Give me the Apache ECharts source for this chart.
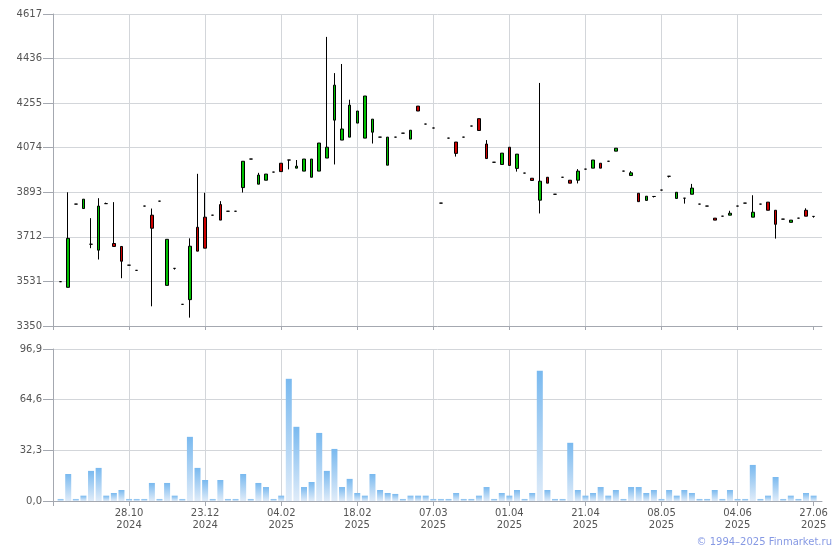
<!DOCTYPE html>
<html>
<head>
<meta charset="utf-8">
<script src="https://cdn.jsdelivr.net/npm/echarts@6/dist/echarts.min.js"></script>
<style>
html,body{margin:0;padding:0;background:#fff;}
#chart{width:840px;height:550px;}
</style>
</head>
<body>
<div id="chart"></div>
<script>
// ---- data ----
const opens  = [3530,3507,3845,3827,3682,3658,3847,3685,3673,3597,
                3576,3837,3800,3857,3515,3584,3438,3457,3751,3792,
                3800,3843,3816,3816,3912,4028,3926,3942,3975,4011,
                4024,3991,3979,3954,3979,4032,4186,4105,4117,4174,
                4113,4137,4117,4003,4117,4133,4109,4243,4170,4154,
                3849,4113,4097,4117,4162,4192,4089,4015,4006,4076,
                3990,3971,3950,3861,3954,3885,3954,3942,3942,3987,
                3991,4011,4019,4060,3979,3961,3889,3860,3876,3902,
                3958,3868,3869,3885,3845,3837,3788,3796,3800,3837,
                3849,3792,3845,3853,3820,3784,3771,3788,3820,3795];
const closes = [3530,3706,3845,3865,3682,3837,3847,3673,3613,3597,
                3576,3837,3747,3857,3702,3584,3438,3674,3654,3666,
                3800,3780,3816,3816,4019,4028,3963,3967,3975,3977,
                4024,3999,4028,4028,4093,4076,4328,4150,4247,4223,
                4284,4190,4117,4117,4117,4133,4145,4223,4170,4154,
                3849,4113,4051,4117,4162,4144,4030,4015,4052,4002,
                4048,3971,3941,3938,3930,3885,3954,3930,3979,3987,
                4024,3991,4019,4072,3979,3972,3855,3877,3876,3902,
                3958,3893,3869,3910,3845,3837,3780,3796,3808,3837,
                3849,3812,3845,3820,3763,3784,3780,3788,3796,3795];
const lows   = [3530,3507,3845,3827,3666,3620,3847,3673,3544,3597,
                3576,3837,3430,3857,3515,3579,3438,3384,3654,3666,
                3800,3780,3816,3816,3892,4028,3926,3942,3975,3977,
                3986,3991,3979,3954,3979,4032,4006,4105,4117,4174,
                4113,4091,4117,4003,4117,4133,4109,4223,4170,4154,
                3849,4113,4038,4117,4162,4144,4030,4015,4006,4002,
                3977,3971,3941,3807,3930,3885,3954,3930,3929,3987,
                3991,3991,4019,4060,3979,3961,3855,3860,3872,3902,
                3953,3868,3847,3885,3845,3837,3780,3796,3800,3837,
                3849,3792,3845,3820,3705,3784,3771,3788,3796,3790];
const highs  = [3530,3893,3845,3865,3788,3869,3851,3853,3673,3597,
                3576,3837,3827,3857,3702,3584,3438,3706,3968,3891,
                3800,3857,3816,3816,4019,4028,3972,3967,3975,4011,
                4024,4024,4028,4028,4093,4524,4377,4414,4269,4223,
                4284,4190,4117,4117,4117,4133,4145,4243,4170,4154,
                3849,4113,4097,4117,4162,4192,4105,4015,4052,4076,
                4048,3971,3950,4337,3954,3885,3954,3942,3987,3987,
                4024,4011,4019,4072,3979,3979,3889,3877,3876,3902,
                3958,3893,3869,3927,3845,3837,3788,3796,3818,3837,
                3849,3881,3845,3853,3820,3784,3780,3788,3828,3795];
const volumes = [1.3,17.2,1.3,3.4,19.2,21.1,3.4,5.1,7.0,1.3,
                 1.3,1.3,11.5,1.3,11.5,3.4,1.3,40.9,21.1,13.4,
                 1.3,13.4,1.3,1.3,17.2,1.3,11.5,8.9,1.3,3.4,
                 77.9,47.3,8.9,12.1,43.4,19.2,33.2,8.9,14.1,5.1,
                 3.4,17.2,7.0,5.1,4.5,1.3,3.4,3.4,3.4,1.3,
                 1.3,1.3,5.1,1.3,1.3,3.4,8.9,1.3,5.1,3.4,
                 7.0,1.3,5.1,83.0,7.0,1.3,1.3,37.1,7.0,3.4,
                 5.1,8.9,3.4,7.0,1.3,8.9,8.9,5.1,7.0,1.3,
                 7.0,3.4,7.0,5.1,1.3,1.3,7.0,1.3,7.0,1.3,
                 1.3,23.0,1.3,3.4,15.3,1.3,3.4,1.3,5.1,3.4];
// x-axis tick labels and the candle index (0-based) each one sits on
const xTickLabels = ['28.10\n2024','23.12\n2024','04.02\n2025','18.02\n2025','07.03\n2025',
                     '01.04\n2025','21.04\n2025','08.05\n2025','04.06\n2025','27.06\n2025'];
const xTickIndex  = [9,19,29,39,49,59,69,79,89,99];
const priceTicks  = [3350,3531,3712,3893,4074,4255,4436,4617];
const volumeTicks = [0,32.3,64.6,96.9];

// ---- build series rows (x position = candle index + 1) ----
const candleRows = opens.map((o,i)=>[i+1, o, closes[i], lows[i], highs[i]]);
const volumeRows = volumes.map((v,i)=>[i+1, v]);
const xTickPos = xTickIndex.map(i=>i+1);
const xTickPosAll = [0].concat(xTickPos);

const FONT = 'DejaVu Sans';
const AXIS_C = '#a4a8b0';
const GRID_C = '#d3d6da';
const TEXT_C = '#555555';

function xAxisCfg(gridIndex, showLabels){
  return {
    type:'value', gridIndex, min:0, max:101.1,
    axisLine:{show:true, onZero:false, lineStyle:{color:AXIS_C}},
    axisTick:{show:true, length: showLabels?5:4, customValues:xTickPosAll, lineStyle:{color:AXIS_C}},
    axisLabel:{show:showLabels, customValues:xTickPos, color:TEXT_C, fontFamily:FONT, fontSize:10,
      lineHeight:12, margin:6,
      formatter:(v)=>{const k=xTickPos.indexOf(Math.round(v)); return k>=0?xTickLabels[k]:'';}},
    splitLine:{show:true, showMinLine:false, showMaxLine:false, lineStyle:{color:GRID_C, width:1}}
  };
}

const chart = echarts.init(document.getElementById('chart'), null, {renderer:'canvas'});
chart.setOption({
  animation:false,
  backgroundColor:'#ffffff',
  grid:[
    {left:53, top:14, width:769, height:312},
    {left:53, top:349, width:769, height:152}
  ],
  xAxis:[xAxisCfg(0,false), xAxisCfg(1,true)],
  yAxis:[
    {type:'value', gridIndex:0, min:3350, max:4617,
     axisLine:{show:true, lineStyle:{color:AXIS_C}},
     axisTick:{show:true, length:10, customValues:priceTicks, lineStyle:{color:AXIS_C}},
     axisLabel:{customValues:priceTicks, color:TEXT_C, fontFamily:FONT, fontSize:10, margin:11,
       formatter:(v)=>String(Math.round(v))},
     splitLine:{show:true, showMinLine:false, lineStyle:{color:GRID_C}}},
    {type:'value', gridIndex:1, min:0, max:96.9,
     axisLine:{show:true, lineStyle:{color:AXIS_C}},
     axisTick:{show:true, length:10, customValues:volumeTicks, lineStyle:{color:AXIS_C}},
     axisLabel:{customValues:volumeTicks, color:TEXT_C, fontFamily:FONT, fontSize:10, margin:11,
       formatter:(v)=>v.toFixed(1).replace('.',',')},
     splitLine:{show:true, showMinLine:false, lineStyle:{color:GRID_C}}}
  ],
  series:[
    {type:'candlestick', xAxisIndex:0, yAxisIndex:0, data:candleRows,
     encode:{x:0, y:[1,2,3,4]}, barWidth:3,
     itemStyle:{color:'#00c000', color0:'#cc0000', borderColor:'#000000', borderColor0:'#000000',
       borderColorDoji:'#000000', borderWidth:1}},
    {type:'bar', xAxisIndex:1, yAxisIndex:1, data:volumeRows, barWidth:6,
     itemStyle:{color:new echarts.graphic.LinearGradient(0,0,0,1,[
       {offset:0,color:'#79b9ef'},{offset:1,color:'#e0ecf9'}])}}
  ],
  graphic:[
    {type:'text', right:8, top:537, style:{text:'© 1994–2025 Finmarket.ru', fill:'#8699e4',
      font:'10px "DejaVu Sans"'}}
  ]
});
</script>
</body>
</html>
